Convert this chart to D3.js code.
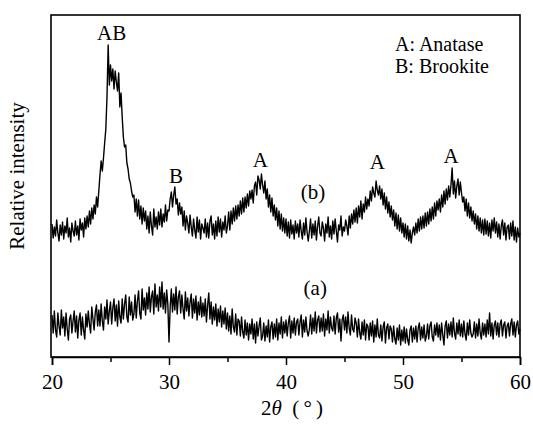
<!DOCTYPE html>
<html>
<head>
<meta charset="utf-8">
<script src="https://cdn.jsdelivr.net/npm/d3@7"></script>
<style>
  body { margin: 0; background: #fff; }
  svg text { font-family: "Liberation Serif", "DejaVu Serif", "Times New Roman", serif !important; fill: #000; }
</style>
</head>
<body>
<div id="xrdId"></div>
<script>
// 2theta grid: 20.0 .. 60.0 in 0.1 steps
var thetaStart = 20;
var thetaStep = 0.1;

// (b) trace, relative intensity, one row per degree
var seriesB = [
    133,119,130,121,137,124,116,132,122,135,
    118,131,124,139,120,129,115,134,126,121,
    136,122,131,117,138,127,134,120,139,128,
    141,130,146,133,149,138,152,143,160,150,
    166,182,196,186,199,214,228,260,312,272,
    292,276,288,268,286,275,266,284,250,264,
    240,220,210,212,194,188,178,174,166,160,
    162,145,158,141,157,138,151,133,149,136,
    146,128,141,124,145,131,122,148,130,140,
    128,145,132,148,130,143,135,152,136,147,
    146,158,165,150,162,170,153,158,142,154,
    143,150,131,146,127,141,134,124,142,130,
    121,138,127,119,140,125,137,118,133,129,
    124,138,120,134,119,136,141,122,133,118,
    136,121,140,125,138,120,135,127,141,124,
    131,145,127,146,133,149,136,151,138,152,
    141,156,143,159,145,160,149,163,151,166,
    158,167,154,171,175,162,181,177,168,183,
    172,164,176,158,168,150,162,145,159,141,
    152,137,149,131,146,128,143,126,139,124,
    138,121,135,119,137,123,132,118,136,124,
    133,120,137,126,118,134,122,139,125,116,
    126,138,119,133,122,136,117,131,140,124,
    121,135,129,116,133,124,140,120,131,118,
    136,123,138,126,115,132,127,141,121,130,
    126,137,131,122,141,129,143,133,147,135,
    149,134,151,140,156,138,153,145,160,148,
    158,151,166,156,170,164,160,176,167,162,
    171,158,168,152,164,148,160,144,155,140,
    151,137,147,131,144,128,142,126,139,124,
    134,120,133,118,131,116,127,114,124,130,
    122,134,124,138,126,140,128,141,129,144,
    131,145,133,148,136,150,138,154,141,156,
    147,158,145,162,150,166,153,168,157,171,
    160,172,189,163,176,159,171,178,162,175,
    164,155,160,146,158,141,154,139,150,136,
    146,133,143,128,141,126,139,124,137,122,
    138,123,136,121,134,119,137,126,139,124,
    135,120,133,118,131,137,122,134,117,130,
    132,118,134,121,136,117,130,115,129,120,
    124
];

// (a) trace
var seriesA = [
    42,24,46,27,20,44,31,22,47,29,
    40,21,44,28,17,38,42,24,36,46,
    25,41,19,37,44,22,40,27,18,43,
    30,46,33,24,50,38,27,45,52,31,
    47,31,53,36,27,50,38,57,33,46,
    55,33,49,58,36,52,31,56,40,34,
    58,38,53,62,40,35,60,42,55,37,
    43,62,39,56,66,44,38,68,47,59,
    42,64,48,70,45,60,66,43,73,50,
    62,46,70,50,75,48,64,44,67,53,
    15,50,68,45,63,47,70,43,60,66,
    44,62,48,38,65,46,59,41,55,63,
    39,58,44,61,37,55,42,60,40,54,
    41,58,35,52,64,38,55,33,50,37,
    53,31,48,35,51,30,46,33,49,28,
    44,26,41,23,48,30,25,43,22,38,
    36,21,40,25,19,37,22,34,17,33,
    23,38,18,33,14,35,21,31,39,17,
    21,34,16,31,20,37,15,30,35,18,
    33,20,38,17,34,23,40,19,35,24,
    37,21,34,41,19,36,24,39,22,35,
    38,22,35,42,20,37,25,40,26,21,
    28,42,23,39,26,45,24,37,41,25,
    39,26,43,21,38,27,46,24,40,29,
    26,41,23,39,44,25,38,16,37,42,
    27,40,24,45,29,22,42,28,25,39,
    34,20,38,24,18,35,22,37,17,33,
    31,17,34,21,36,15,32,20,38,22,
    19,32,16,30,35,14,29,33,18,31,
    28,15,31,18,13,29,17,32,12,27,
    16,30,14,28,17,12,27,31,15,29,
    18,31,15,29,34,17,30,19,32,16,
    21,33,18,31,35,20,16,32,22,34,
    20,32,17,34,22,12,31,36,19,33,
    22,35,20,39,24,18,34,23,37,21,
    33,20,36,23,17,34,22,37,24,20,
    23,35,19,33,21,38,24,18,34,22,
    33,20,37,23,44,21,34,18,32,36,
    22,34,20,33,37,21,32,35,19,31,
    34,21,33,38,22,35,20,32,36,23,
    28
];

var xTicks = [20, 30, 40, 50, 60];
var xMinorTicks = [25, 35, 45, 55];

// peak labels: [2theta, relative intensity of label baseline, text]
var peakLabels = [
    [25.1, 317, "AB"],
    [30.6, 174, "B"],
    [37.8, 190, "A"],
    [47.8, 188, "A"],
    [54.1, 194, "A"]
];
var traceLabels = [
    [42.3, 158, "(b)"],
    [42.5, 62, "(a)"]
];
var legendLines = ["A: Anatase", "B: Brookite"];

var wt = 533;
var ht = 428;
var margin = {
    top: 15,
    right: 13,
    bottom: 71,
    left: 52
};
var width = wt - margin.left - margin.right;
var height = ht - margin.top - margin.bottom;
var fontSize = 21;

var svg = d3.select("#xrdId").append("svg")
    .attr("width", wt)
    .attr("height", ht);

svg.append("rect")
    .attr("width", wt)
    .attr("height", ht)
    .attr("fill", "#fff");

var g = svg.append("g")
    .attr("transform", "translate(" + margin.left + "," + margin.top + ")");

var x = d3.scaleLinear()
    .domain([20, 60])
    .range([0, width]);

var y = d3.scaleLinear()
    .domain([0, 342])
    .range([height, 0]);

var toPoints = function (arr) {
    return arr.map(function (v, i) {
        return { theta: thetaStart + i * thetaStep, value: v };
    });
};

var line = d3.line()
    .x(function (d) {
        return x(d.theta);
    })
    .y(function (d) {
        return y(d.value);
    });

// frame
g.append("rect")
    .attr("x", -1)
    .attr("y", 0)
    .attr("width", width + 1)
    .attr("height", height)
    .attr("fill", "none")
    .attr("stroke", "#000")
    .attr("stroke-width", 1.6);

// x axis, ticks point outward
g.append("g")
    .attr("class", "axis axis--x")
    .attr("transform", "translate(0," + height + ")")
    .call(d3.axisBottom(x)
        .tickValues(xTicks)
        .tickSize(8)
        .tickPadding(9)
        .tickFormat(d3.format("d")))
    .call(function (a) {
        a.select(".domain").attr("stroke-width", 1.6);
        a.selectAll(".tick line").attr("stroke-width", 1.5);
        a.selectAll(".tick text").attr("font-size", fontSize);
    });

g.append("g")
    .attr("class", "axis axis--minor")
    .attr("transform", "translate(0," + height + ")")
    .call(d3.axisBottom(x)
        .tickValues(xMinorTicks)
        .tickSize(5)
        .tickFormat(""))
    .call(function (a) {
        a.select(".domain").remove();
        a.selectAll(".tick line").attr("stroke-width", 1.5);
    });

// traces
[seriesB, seriesA].forEach(function (s) {
    g.append("path")
        .datum(toPoints(s))
        .attr("class", "line")
        .attr("fill", "none")
        .attr("stroke", "#000")
        .attr("stroke-width", 1.4)
        .attr("stroke-linejoin", "round")
        .attr("d", line);
});

// labels
g.selectAll(".peak")
    .data(peakLabels.concat(traceLabels))
    .enter().append("text")
    .attr("class", "peak")
    .attr("x", function (d) { return x(d[0]); })
    .attr("y", function (d) { return y(d[1]); })
    .attr("text-anchor", "middle")
    .attr("font-size", fontSize)
    .text(function (d) { return d[2]; });

g.selectAll(".legend")
    .data(legendLines)
    .enter().append("text")
    .attr("class", "legend")
    .attr("x", 343)
    .attr("y", function (d, i) { return 36 + i * 22; })
    .attr("font-size", 20)
    .text(function (d) { return d; });

// axis titles
var xTitle = svg.append("text")
    .attr("x", 292)
    .attr("y", 415)
    .attr("text-anchor", "middle")
    .attr("font-size", fontSize);
xTitle.append("tspan").text("2");
xTitle.append("tspan").attr("font-style", "italic").text("\u03b8");
xTitle.append("tspan").text("\u2002(\u2009\u00b0\u2009)");

svg.append("text")
    .attr("transform", "translate(24,176) rotate(-90)")
    .attr("text-anchor", "middle")
    .attr("font-size", fontSize)
    .text("Relative intensity");
</script>
</body>
</html>
